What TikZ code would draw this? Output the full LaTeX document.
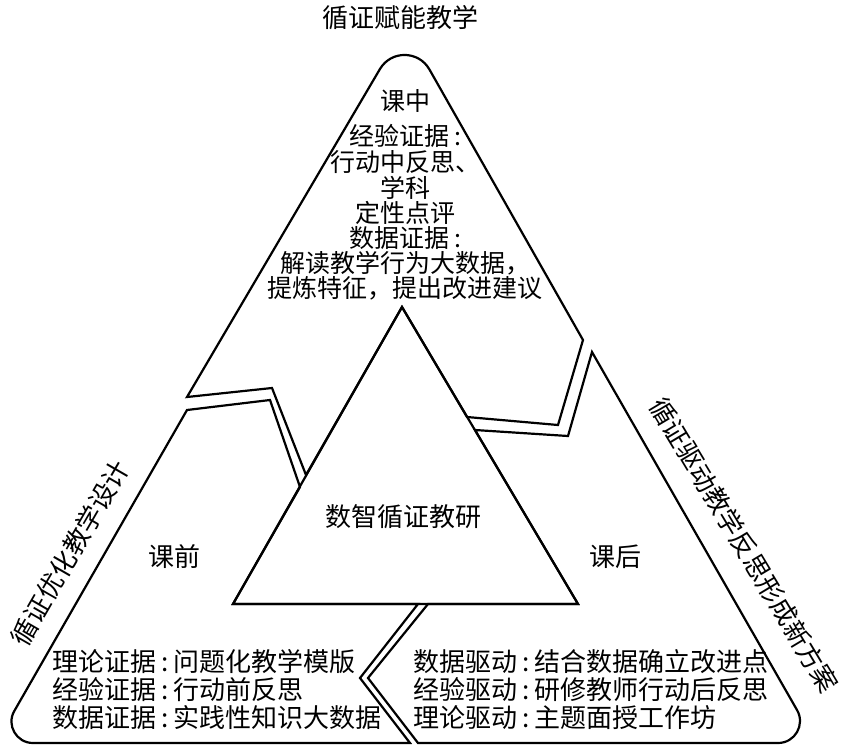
\documentclass[tikz,border=0pt]{standalone}
\usepackage{fontspec}
\setmainfont{Noto Sans CJK SC}
\newcommand\kcolon{\hspace{0.2em}:\hspace{0.2em}}
\begin{document}
\begin{tikzpicture}[x=1pt,y=-1pt,
  piece/.style={draw=black, line width=2.2pt},
  lbl/.style={inner sep=0pt, font=\fontsize{26}{26}\selectfont},
  toptxt/.style={inner sep=0pt, font=\fontsize{25}{25}\selectfont}]
\path[fill=white] (0,0) rectangle (843,747);
% corner coordinates
\coordinate (cA) at (402,307);
\coordinate (cB) at (233,604);
\coordinate (cD) at (578,604);
% central triangle
\draw[piece] (cA) -- (cB) -- (cD) -- cycle;
% top piece
\draw[piece] (379.9,69.1) .. controls (391.1,50.1) and (418.5,50.3) .. (429.4,69.4) -- (583,340) -- (558,425) -- (467,417) -- (cA) -- (306,475) -- (272,388) -- (187,397) -- cycle;
% left piece
\draw[piece] (187,410) -- (270,400) -- (300,487) -- (cB) -- (418,604) -- (360,678) -- (410,743) -- (33,743) .. controls (16.5,743) and (6.1,725.2) .. (14.3,711) -- cycle;
% right piece
\draw[piece] (475,430) -- (568,436) -- (592,352) -- (797,710) .. controls (805.5,724.7) and (795,743) .. (778,743) -- (418,743) -- (368,678) -- (428,604) -- (cD) -- cycle;
% texts
\node[lbl] (title) at (400,18) {循证赋能教学};
\node[toptxt] (kz) at (405,101) {课中};
\node[toptxt] (t1) at (405,136) {经验证据\kcolon};
\node[toptxt] (t2) at (405,162) {行动中反思、};
\node[toptxt] (t3) at (405,188) {学科};
\node[toptxt] (t4) at (405,213) {定性点评};
\node[toptxt] (t5) at (405,238) {数据证据\kcolon};
\node[toptxt] (t6) at (405,263) {解读教学行为大数据，};
\node[toptxt] (t7) at (405,288) {提炼特征，提出改进建议};
\node[lbl] (center) at (403,517) {数智循证教研};
\node[lbl] (kq) at (174,557) {课前};
\node[lbl] (kh) at (615,557) {课后};
\node[lbl, anchor=west] (l1) at (52,662) {理论证据\kcolon 问题化教学模版};
\node[lbl, anchor=west] (l2) at (52,690) {经验证据\kcolon 行动前反思};
\node[lbl, anchor=west] (l3) at (52,718) {数据证据\kcolon 实践性知识大数据};
\node[lbl, anchor=west] (r1) at (413,662) {数据驱动\kcolon 结合数据确立改进点};
\node[lbl, anchor=west] (r2) at (413,690) {经验驱动\kcolon 研修教师行动后反思};
\node[lbl, anchor=west] (r3) at (413,718) {理论驱动\kcolon 主题面授工作坊};
\node[lbl, rotate=60] (lside) at (70,553) {循证优化教学设计};
\node[lbl, rotate=-59] (rside) at (744,545) {循证驱动教学反思形成新方案};
\end{tikzpicture}
\end{document}
